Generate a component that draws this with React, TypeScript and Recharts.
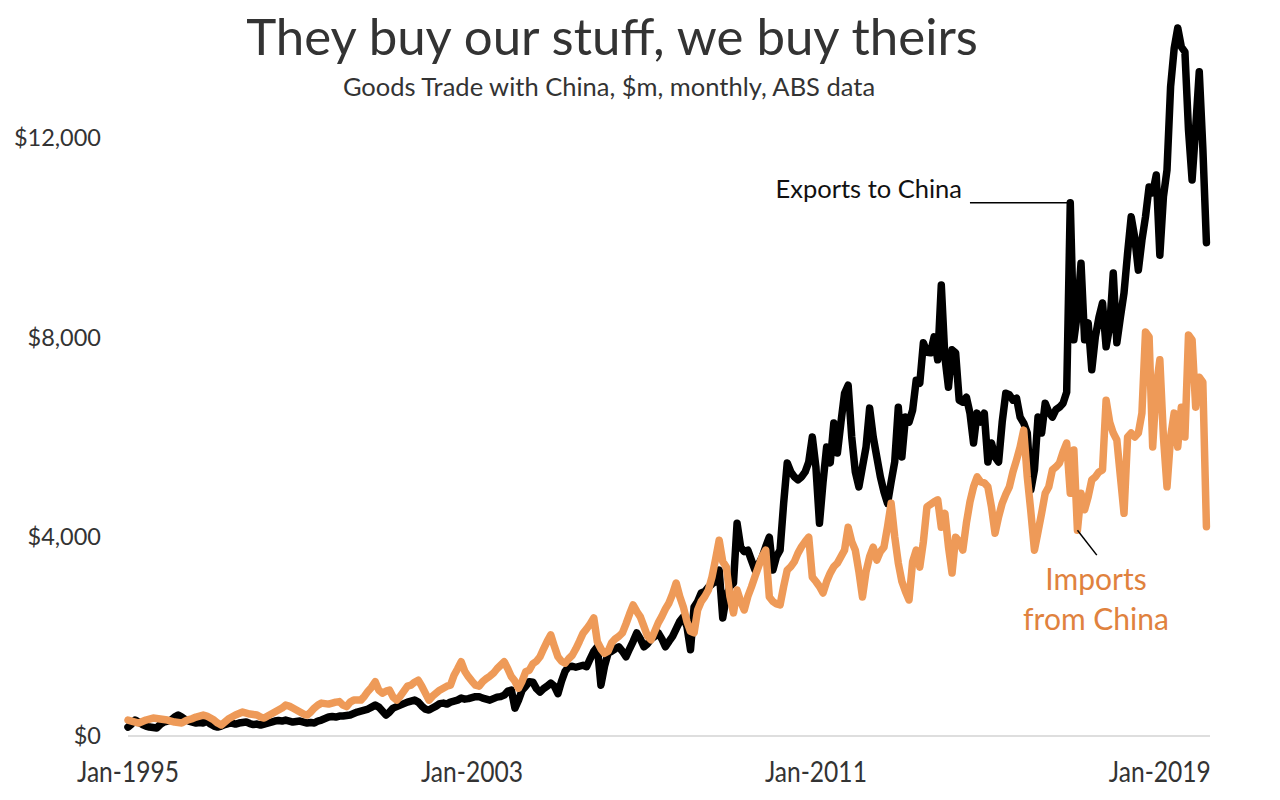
import React from 'react';
import { LineChart, Line, XAxis, YAxis, ReferenceLine } from 'recharts';

// Monthly values, Jan-1995 .. Feb-2020 ($m)
const exportsValues: number[] = [
  180, 240, 320, 280, 230, 200, 180, 170, 160, 230, 280, 300,
  320, 380, 420, 380, 330, 300, 280, 260, 270, 260, 300, 240,
  200, 180, 200, 230, 250, 260, 240, 260, 270, 280, 250, 230,
  240, 220, 240, 260, 280, 300, 310, 300, 320, 300, 280, 290,
  300, 280, 260, 270, 260, 300, 320, 350, 380, 390, 380, 400,
  400, 410, 420, 450, 480, 500, 520, 540, 580, 620, 580, 500,
  420, 480, 560, 590, 620, 650, 680, 700, 720, 680, 600, 540,
  520, 560, 600, 650, 660, 640, 680, 700, 720, 760, 740, 750,
  770, 790, 790, 760, 740, 720, 750, 780, 790, 820, 900, 920,
  560, 720, 920, 1000, 1090, 1080, 950, 880, 950, 1000, 1060, 1000,
  850, 1100, 1300, 1390, 1400, 1380, 1400, 1420, 1390, 1550, 1700, 1790,
  1020, 1400, 1660, 1700, 1750, 1790, 1700, 1590, 1750, 1900, 2070, 1950,
  1790, 1850, 1950, 2000, 2070, 1950, 1790, 1900, 2000, 2150, 2300, 2390,
  2200, 1730, 2590, 2700, 2870, 2900, 2990, 3050, 3100, 3330, 2370, 2800,
  3000, 3070, 4270, 3790, 3700, 3730, 3530, 3330, 3450, 3590, 3800, 3990,
  3330, 3600, 3730, 4670, 5480, 5300, 5200, 5140, 5200, 5300, 5500, 6000,
  5400, 4270, 5100, 5800, 5480, 6280, 5680, 6300, 6880, 7040, 6000, 5300,
  5000, 5400, 5800, 6580, 6000, 5600, 5200, 4900, 4670, 5100, 5500, 6600,
  5600, 6400, 6300, 6540, 7140, 7080, 7890, 7700, 7690, 8010, 7550, 9050,
  7610, 7000, 7750, 7690, 6740, 6700, 6800, 6480, 5880, 6480, 6300, 6480,
  5500, 5880, 5600, 5500, 6300, 6880, 6850, 6740, 6780, 6400, 6280, 6080,
  4940, 5340, 6400, 6080, 6680, 6500, 6400, 6550, 6600, 6680, 6900, 10700,
  7950, 8490, 9490, 7950, 8290, 7350, 8010, 8400, 8690, 7810, 8210, 9290,
  7890, 8410, 8890, 9690, 10420, 10000, 9350, 9950, 10420, 11020, 10900, 11260,
  9650, 10820, 11360, 13030, 13800, 14210, 13830, 13730, 12160, 11160, 12200, 13330,
  11800, 9900,
];

const importsValues: number[] = [
  320, 300, 280, 260, 290, 320, 340, 360, 350, 340, 330, 320,
  300, 280, 270, 260, 300, 330, 350, 380, 400, 420, 400, 360,
  320, 260, 220, 280, 340, 380, 420, 450, 480, 460, 440, 430,
  420, 380, 360, 400, 440, 480, 520, 560, 620, 600, 560, 520,
  480, 440, 420, 480, 560, 620, 660, 650, 640, 660, 680, 690,
  620, 590, 680, 720, 720, 720, 800, 900, 980, 1090, 920, 860,
  900, 920, 780, 720, 800, 900, 1000, 1020, 1080, 1120, 1000, 860,
  720, 800, 860, 920, 960, 1000, 1020, 1220, 1350, 1490, 1300, 1190,
  1100, 1020, 1000, 1090, 1150, 1200, 1260, 1350, 1420, 1490, 1350, 1190,
  1100, 960, 1100, 1290, 1320, 1450, 1500, 1590, 1750, 1900, 2030, 1800,
  1590, 1500, 1460, 1550, 1620, 1750, 1900, 2060, 2150, 2250, 2370, 1890,
  1750, 1660, 1700, 1870, 1950, 2000, 2070, 2250, 2450, 2630, 2500, 2390,
  2200, 2000, 1930, 2100, 2270, 2400, 2550, 2670, 2850, 3070, 2800, 2590,
  2300, 2100, 2070, 2530, 2700, 2800, 2930, 3190, 3550, 3930, 3500, 3390,
  2800, 2470, 2930, 2700, 2530, 2800, 2990, 3200, 3400, 3600, 3730, 2790,
  2700, 2650, 2630, 3000, 3330, 3400, 3500, 3670, 3800, 3900, 3990, 3190,
  3100, 3000, 2870, 3100, 3270, 3400, 3470, 3600, 3730, 4190, 3900, 3730,
  3300, 2790, 3300, 3600, 3790, 3530, 3700, 3790, 4200, 4670, 4000, 3470,
  3100, 2900, 2730, 3500, 3730, 3390, 3900, 4600, 4650, 4700, 4740, 4190,
  4470, 3800, 3270, 3990, 3900, 3730, 4270, 4700, 5000, 5200, 5100, 5080,
  5000, 4600, 4070, 4400, 4670, 4850, 5000, 5300, 5540, 5800, 6140, 5200,
  4500, 3730, 4100, 4470, 4870, 5000, 5340, 5400, 5480, 5700, 5880, 4870,
  5740, 4130, 4870, 4540, 4800, 5140, 5200, 5300, 5340, 6740, 6300, 6080,
  5940, 5200, 4470, 6000, 6080, 6000, 6080, 6480, 8110, 8010, 5800, 7000,
  7550, 6000, 5000, 6000, 6480, 5800, 6600, 6000, 8050, 7950, 6600, 7200,
  7100, 4200,
];

const xTickIndex: number[] = [0, 96, 192, 288];
const xTickLabels: string[] = ['Jan-1995', 'Jan-2003', 'Jan-2011', 'Jan-2019'];
const yTicks: number[] = [0, 4000, 8000, 12000];

const titleText = 'They buy our stuff, we buy theirs';
const subtitleText = 'Goods Trade with China, $m, monthly, ABS data';
const exportsLabel = 'Exports to China';
const importsLabelLines: string[] = ['Imports', 'from China'];

// annotation anchors (data coordinates)
const exportsPeakIndex = 263;
const exportsLabelEndIndex = 235;
const importsAnchorIndex = 265;
const importsLeaderEnd = { x: 270.4, y: 3630 };

const rows = exportsValues.map((v, i) => ({ i, exports: v, imports: importsValues[i] }));

const FONT = 'Lato, "Open Sans", sans-serif';
const ORANGE = '#EE9A58';
const ORANGE_TEXT = '#E0823E';

const XTick = (props: any) => {
  const { x, y, payload } = props;
  const idx = xTickIndex.indexOf(payload.value);
  const label = idx >= 0 ? xTickLabels[idx] : '';
  return (
    <text
      x={x}
      y={y + 25}
      dy="0.71em"
      textAnchor="middle"
      fill="#333"
      fontSize={29}
      fontFamily={FONT}
      textLength={102}
      lengthAdjust="spacingAndGlyphs"
    >
      {label}
    </text>
  );
};

export default function App() {
  return (
    <div style={{ position: 'absolute', left: 0, top: 0, width: 1280, height: 800, background: '#fff' }}>
      <LineChart
        width={1280}
        height={800}
        data={rows}
        margin={{ top: 13.5, right: 70, bottom: 34, left: 0 }}
      >
        <XAxis
          dataKey="i"
          type="number"
          domain={[0, 302]}
          ticks={xTickIndex}
          interval={0}
          tick={<XTick />}
          tickLine={false}
          tickSize={0}
          tickMargin={0}
          axisLine={{ stroke: '#d3d3d3', strokeWidth: 1.5 }}
          height={30}
        />
        <YAxis
          type="number"
          domain={[0, 14500]}
          ticks={yTicks}
          width={128}
          axisLine={false}
          tickLine={false}
          tickSize={0}
          tickMargin={27}
          tickFormatter={(v: number) => '$' + v.toLocaleString('en-US')}
          tick={{ fill: '#333', fontSize: 23.5, fontFamily: FONT }}
        />
        <Line
          type="linear"
          dataKey="exports"
          stroke="#000"
          strokeWidth={7.5}
          strokeLinejoin="round"
          strokeLinecap="round"
          dot={false}
          isAnimationActive={false}
        />
        <Line
          type="linear"
          dataKey="imports"
          stroke={ORANGE}
          strokeWidth={7.5}
          strokeLinejoin="round"
          strokeLinecap="round"
          dot={false}
          isAnimationActive={false}
        />
        <ReferenceLine
          segment={[
            { x: exportsLabelEndIndex, y: exportsValues[exportsPeakIndex] },
            { x: exportsPeakIndex, y: exportsValues[exportsPeakIndex] },
          ]}
          stroke="#000"
          strokeWidth={1.5}
        />
        <ReferenceLine
          segment={[
            { x: importsAnchorIndex, y: importsValues[importsAnchorIndex] },
            importsLeaderEnd,
          ]}
          stroke="#000"
          strokeWidth={1.5}
        />
      </LineChart>
      <svg
        width={1280}
        height={800}
        style={{ position: 'absolute', left: 0, top: 0, pointerEvents: 'none' }}
      >
        <text x={612} y={55} textAnchor="middle" fontSize={51} fill="#333" fontFamily={FONT}>
          {titleText}
        </text>
        <text x={609} y={96} textAnchor="middle" fontSize={25.5} fill="#333" fontFamily={FONT}>
          {subtitleText}
        </text>
        <text x={962} y={198} textAnchor="end" fontSize={25.5} fill="#111" fontFamily={FONT}>
          {exportsLabel}
        </text>
        <text x={1096} y={590} textAnchor="middle" fontSize={30} fill={ORANGE_TEXT} fontFamily={FONT}>
          {importsLabelLines[0]}
        </text>
        <text x={1096} y={630} textAnchor="middle" fontSize={30} fill={ORANGE_TEXT} fontFamily={FONT}>
          {importsLabelLines[1]}
        </text>
      </svg>
    </div>
  );
}
